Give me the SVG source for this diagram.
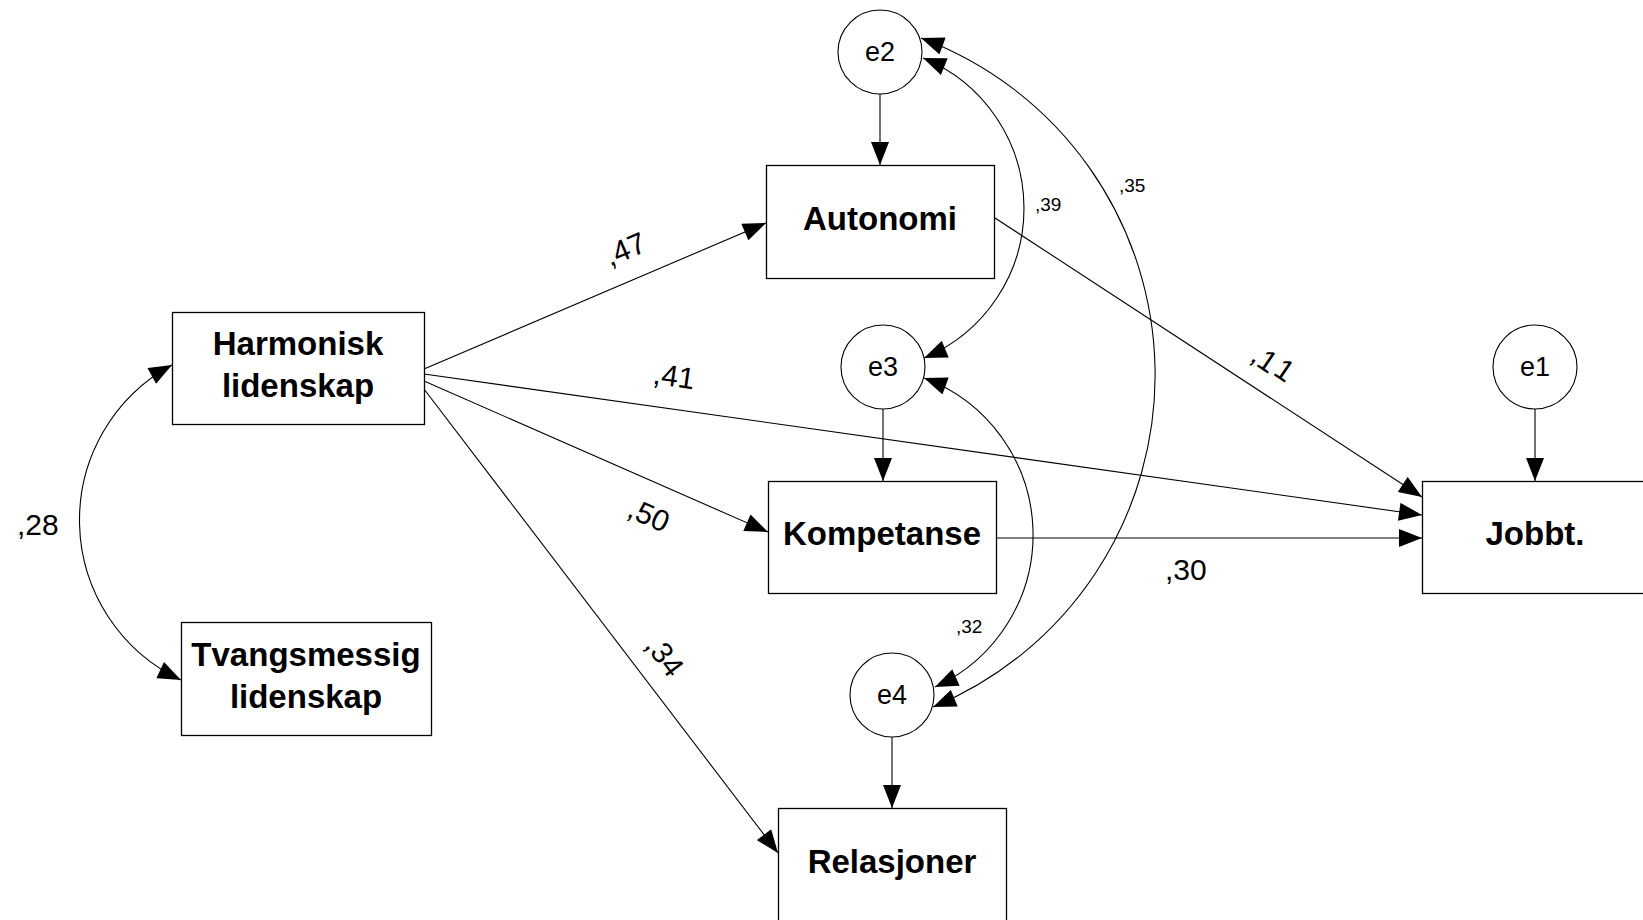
<svg xmlns="http://www.w3.org/2000/svg" width="1643" height="920" viewBox="0 0 1643 920">
<style>
.box{fill:#fff;stroke:#000;stroke-width:1.3}
.circ{fill:#fff;stroke:#000;stroke-width:1.1}
.lbl{font-family:"Liberation Sans",Arial,sans-serif;font-weight:bold;font-size:33px;text-anchor:middle;fill:#000}
.elbl{font-family:"Liberation Sans",Arial,sans-serif;font-size:27px;text-anchor:middle;fill:#000}
.c{fill:none;stroke:#000;stroke-width:1.1}
.w{font-family:"Liberation Sans",Arial,sans-serif;font-size:30px;fill:#000}
.ws{font-family:"Liberation Sans",Arial,sans-serif;font-size:19px;fill:#000}
.mid{text-anchor:middle}
</style>
<defs>
<marker id="ah" markerUnits="userSpaceOnUse" markerWidth="24" markerHeight="18" refX="23" refY="9" orient="auto-start-reverse" viewBox="0 0 23 18">
<path d="M0,0 L23,9 L0,18 z" fill="#000"/>
</marker>
</defs>
<rect width="1643" height="920" fill="#fff"/>

<g id="connectors">
<path class="c" d="M880,94 L880,165" marker-end="url(#ah)"/>
<path class="c" d="M883,409 L883,481" marker-end="url(#ah)"/>
<path class="c" d="M892,737 L892,808" marker-end="url(#ah)"/>
<path class="c" d="M1535,409 L1535,481" marker-end="url(#ah)"/>
<path class="c" d="M424,369 L766,223" marker-end="url(#ah)"/>
<path class="c" d="M424,374 L1422,515" marker-end="url(#ah)"/>
<path class="c" d="M424,381 L768,532" marker-end="url(#ah)"/>
<path class="c" d="M424,389 L778,853" marker-end="url(#ah)"/>
<path class="c" d="M995,218 L1422,497" marker-end="url(#ah)"/>
<path class="c" d="M997,538 L1422,538" marker-end="url(#ah)"/>
<path class="c" d="M172,365 A176.5,176.5 0 0 0 181,680" marker-start="url(#ah)" marker-end="url(#ah)"/>
<path class="c" d="M923,58 A162.2,162.2 0 0 1 924,358" marker-start="url(#ah)" marker-end="url(#ah)"/>
<path class="c" d="M921,38 A359.4,359.4 0 0 1 933,707" marker-start="url(#ah)" marker-end="url(#ah)"/>
<path class="c" d="M924,378 A167.2,167.2 0 0 1 935,687" marker-start="url(#ah)" marker-end="url(#ah)"/>
</g>

<g id="labels">
<text class="w" x="17" y="535">,28</text>
<text class="w" x="1165" y="580">,30</text>
<text class="ws" x="1035" y="211">,39</text>
<text class="ws" x="1119" y="192">,35</text>
<text class="ws" x="956" y="633">,32</text>
<text class="w mid" transform="translate(625,249) rotate(-23)" x="0" y="10.5">,47</text>
<text class="w mid" transform="translate(674,376) rotate(8)" x="0" y="10.5">,41</text>
<text class="w mid" transform="translate(649,515) rotate(24)" x="0" y="10.5">,50</text>
<text class="w mid" transform="translate(665,656) rotate(53)" x="0" y="10.5">,34</text>
<text class="w" x="1249 1255 1272" y="360 365 374" rotate="34">,11</text>
</g>

<g id="harmonisk">
<rect class="box" x="172.5" y="312.5" width="252" height="112"/>
<text class="lbl" x="298" y="355">Harmonisk</text>
<text class="lbl" x="298" y="397">lidenskap</text>
</g>
<g id="tvangsmessig">
<rect class="box" x="181.5" y="622.5" width="250" height="113"/>
<text class="lbl" x="306" y="666">Tvangsmessig</text>
<text class="lbl" x="306" y="708">lidenskap</text>
</g>
<g id="autonomi">
<rect class="box" x="766.5" y="165.5" width="228" height="113"/>
<text class="lbl" x="880" y="230">Autonomi</text>
</g>
<g id="kompetanse">
<rect class="box" x="768.5" y="481.5" width="228" height="112"/>
<text class="lbl" x="882" y="545">Kompetanse</text>
</g>
<g id="relasjoner">
<rect class="box" x="778.5" y="808.5" width="228" height="130"/>
<text class="lbl" x="892" y="873">Relasjoner</text>
</g>
<g id="jobbt">
<rect class="box" x="1422.5" y="481.5" width="240" height="112"/>
<text class="lbl" x="1535" y="545">Jobbt.</text>
</g>
<g id="e2">
<circle class="circ" cx="880" cy="52" r="42"/>
<text class="elbl" x="880" y="61">e2</text>
</g>
<g id="e3">
<circle class="circ" cx="883" cy="367" r="42"/>
<text class="elbl" x="883" y="376">e3</text>
</g>
<g id="e4">
<circle class="circ" cx="892" cy="695" r="42"/>
<text class="elbl" x="892" y="704">e4</text>
</g>
<g id="e1">
<circle class="circ" cx="1535" cy="367" r="42"/>
<text class="elbl" x="1535" y="376">e1</text>
</g>
</svg>
